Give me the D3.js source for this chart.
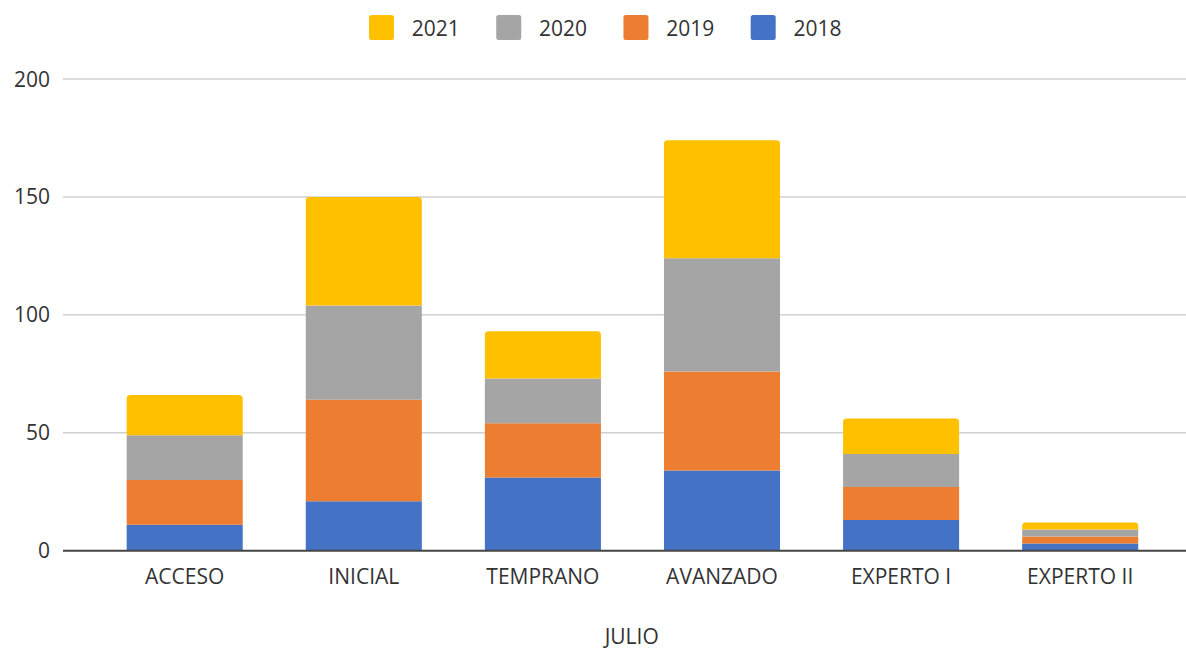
<!DOCTYPE html>
<html>
<head>
<meta charset="utf-8">
<script src="https://cdn.jsdelivr.net/npm/d3@7"></script>
<style>
  html, body { margin: 0; padding: 0; background: #fff; }
  svg { display: block; }
  text { font-family: "Open Sans", sans-serif; fill: #333; }
</style>
</head>
<body>
<svg id="chart" width="1186" height="650"></svg>
<script>
const categories = ["ACCESO", "INICIAL", "TEMPRANO", "AVANZADO", "EXPERTO I", "EXPERTO II"];
const seriesNames = ["2018", "2019", "2020", "2021"];
const v2018 = [11, 21, 31, 34, 13, 3];
const v2019 = [19, 43, 23, 42, 14, 3];
const v2020 = [19, 40, 19, 48, 14, 3];
const v2021 = [17, 46, 20, 50, 15, 3];
const yTicks = [0, 50, 100, 150, 200];
const colors = { "2018": "#4472C4", "2019": "#ED7D31", "2020": "#A5A5A5", "2021": "#FFC000" };
const legendOrder = ["2021", "2020", "2019", "2018"];
const xTitle = "JULIO";

const rows = categories.map((c, i) => ({
  cat: c, "2018": v2018[i], "2019": v2019[i], "2020": v2020[i], "2021": v2021[i]
}));

const svg = d3.select("#chart");
const gridLeft = 63, gridRight = 1186;

const x = d3.scaleBand().domain(categories).range([95.15, 1169.75])
  .paddingInner(0.352).paddingOuter(0.176);
const y = d3.scaleLinear().domain([0, 200]).range([550.7, 79]);

// gridlines
svg.append("g").selectAll("line").data(yTicks.filter(t => t !== 0)).join("line")
  .attr("x1", gridLeft).attr("x2", gridRight)
  .attr("y1", d => y(d)).attr("y2", d => y(d))
  .attr("stroke", "#d0d0d0").attr("stroke-width", 1.5);

// y labels
svg.append("g").selectAll("text").data(yTicks).join("text")
  .attr("x", 50).attr("y", d => y(d))
  .attr("dy", "0.36em")
  .attr("text-anchor", "end")
  .style("font-size", "21px")
  .text(d => d);

// stacked bars
const stack = d3.stack().keys(seriesNames);
const stacked = stack(rows);
const r = 3.5;
function barPath(x0, w, yTop, yBot, rounded) {
  const p = d3.path();
  if (!rounded) {
    p.rect(x0, yTop, w, yBot - yTop);
    return p.toString();
  }
  p.moveTo(x0, yBot);
  p.lineTo(x0, yTop + r);
  p.arcTo(x0, yTop, x0 + r, yTop, r);
  p.lineTo(x0 + w - r, yTop);
  p.arcTo(x0 + w, yTop, x0 + w, yTop + r, r);
  p.lineTo(x0 + w, yBot);
  p.closePath();
  return p.toString();
}
const gBars = svg.append("g");
stacked.forEach((layer, li) => {
  const isTop = li === stacked.length - 1;
  gBars.append("g").attr("fill", colors[layer.key])
    .selectAll("path").data(layer).join("path")
    .attr("d", d => barPath(x(d.data.cat), x.bandwidth(), y(d[1]), y(d[0]), isTop));
});

// baseline
svg.append("line")
  .attr("x1", gridLeft).attr("x2", gridRight)
  .attr("y1", y(0)).attr("y2", y(0))
  .attr("stroke", "#444").attr("stroke-width", 2);

// x labels
svg.append("g").selectAll("text").data(categories).join("text")
  .attr("x", d => x(d) + x.bandwidth() / 2)
  .attr("y", 584)
  .attr("text-anchor", "middle")
  .style("font-size", "21px")
  .text(d => d);

// x title
svg.append("text")
  .attr("x", 631.7).attr("y", 644)
  .attr("text-anchor", "middle")
  .style("font-size", "21px")
  .text(xTitle);

// legend
const legX = d3.scalePoint().domain(legendOrder).range([369, 750.7]);
const leg = svg.append("g").selectAll("g").data(legendOrder).join("g")
  .attr("transform", d => `translate(${legX(d)},15)`);
leg.append("rect").attr("width", 25).attr("height", 25).attr("rx", 2.5)
  .attr("fill", d => colors[d]);
leg.append("text").attr("x", 42.7).attr("y", 20.5)
  .style("font-size", "21px").text(d => d);
</script>
</body>
</html>
